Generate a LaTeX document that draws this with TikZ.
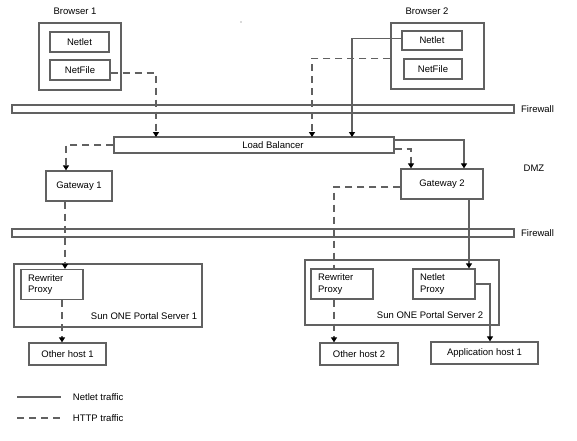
\documentclass[tikz,border=0pt]{standalone}
\usepackage{fontspec}
\setmainfont{Liberation Sans}
\usetikzlibrary{arrows.meta}
\definecolor{linegray}{gray}{0.38}

\begin{document}
\begin{tikzpicture}[x=1pt,y=-1pt,font=\fontsize{9.5}{11.5}\selectfont,
  box/.style={draw=linegray, line width=1.3pt, inner sep=0pt},
  proxybox/.style={box, text width=48pt, inner xsep=7pt, align=left, minimum height=30pt},
  netlet/.style={draw=linegray, line width=1.3pt},
  http/.style={draw=linegray, line width=1.3pt, dash pattern=on 7pt off 5pt},
  tip/.style={-{Triangle[length=5pt,width=6pt,color=black]}}]
  \useasboundingbox (0,0) rectangle (577,440);
  \fill[linegray] (241,22) circle [radius=0.7pt];
  % browsers
  \node (b1lbl) at (75,11) {Browser 1};
  \node[box, minimum width=82pt, minimum height=67pt] (b1) at (80,56.5) {};
  \node[box, minimum width=59pt, minimum height=20pt] (b1net) at (79.5,42) {Netlet};
  \node[box, minimum width=60pt, minimum height=20pt] (b1file) at (80,70) {NetFile};
  \node (b2lbl) at (427,11) {Browser 2};
  \node[box, minimum width=93pt, minimum height=66pt] (b2) at (437.5,56) {};
  \node[box, minimum width=60pt, minimum height=19pt] (b2net) at (432,40.5) {Netlet};
  \node[box, minimum width=58pt, minimum height=20pt] (b2file) at (433,69) {NetFile};
  % firewalls and DMZ
  \node[box, minimum width=502pt, minimum height=8pt] (fw1) at (263,109) {};
  \node[box, minimum width=502pt, minimum height=8pt] (fw2) at (263,233) {};
  \node[anchor=west] (fw1lbl) at ([xshift=3pt]fw1.east) {Firewall};
  \node[anchor=west] (fw2lbl) at ([xshift=3pt]fw2.east) {Firewall};
  \node (dmz) at (534,168) {DMZ};
  \node[box, minimum width=280pt, minimum height=16pt] (lb) at (254,145) {};
  \node (lblbl) at (273,145) {Load Balancer};
  \node[box, minimum width=66pt, minimum height=30pt] (gw1) at (79,186) {Gateway 1};
  \node[box, minimum width=82pt, minimum height=30pt] (gw2) at (442,184) {Gateway 2};
  % portal servers
  \node[box, minimum width=188pt, minimum height=63pt] (ps1) at (108,295.5) {};
  \node[proxybox] (rp1) at (52,284.5) {Rewriter\\Proxy};
  \node[anchor=east] (ps1lbl) at ([xshift=-2pt,yshift=12pt]ps1.south east) {Sun ONE Portal Server 1};
  \node[box, minimum width=194pt, minimum height=65pt] (ps2) at (402,292.5) {};
  \node[proxybox] (rp2) at (342,284) {Rewriter\\Proxy};
  \node[proxybox] (np) at (444,284) {Netlet\\Proxy};
  \node[anchor=east] (ps2lbl) at ([xshift=-13pt,yshift=11pt]ps2.south east) {Sun ONE Portal Server 2};
  \node[box, minimum width=77pt, minimum height=22pt] (oh1) at (67.5,354) {Other host 1};
  \node[box, minimum width=78pt, minimum height=22pt] (oh2) at (359,354) {Other host 2};
  \node[box, minimum width=107pt, minimum height=22pt] (ah) at (484.5,353) {Application host 1};
  % traffic
  \coordinate (lbin1) at (156,137);
  \coordinate (lbin2) at (312,137);
  \coordinate (lbin3) at (352,137);
  \draw[http,tip] ([yshift=-3pt]b1file.east) -| (lbin1);
  \draw[http,tip] (b2.west |- b2file.north) -| (lbin2);
  \draw[netlet,tip] ([yshift=2pt]b2net.west) -| (lbin3);
  \draw[http,tip] (lb.west) -| ([xshift=-13pt]gw1.north);
  \draw[netlet,tip] ([yshift=5pt]lb.east) -| ([xshift=22pt]gw2.north);
  \draw[http,tip] ([yshift=-4pt]lb.east) -| ([xshift=-31pt]gw2.north);
  \draw[http,tip] ([xshift=-14pt]gw1.south) -- ([xshift=-14pt]gw1.south |- rp1.north);
  \draw[http,tip] ([xshift=10pt]rp1.south) -- ([xshift=10pt]rp1.south |- oh1.north);
  \draw[http] ([yshift=-3pt]gw2.west) -| ([xshift=-8pt]rp2.north);
  \draw[http,tip] ([xshift=-8pt]rp2.south) -- ([xshift=-8pt]rp2.south |- oh2.north);
  \draw[netlet,tip] ([xshift=25pt]np.north |- gw2.south) -- ([xshift=25pt]np.north);
  \draw[netlet,tip] (np.east) -| ([xshift=5.5pt]ah.north);
  % legend
  \coordinate (leg1) at (17,397);
  \coordinate (leg2) at (17,418);
  \draw[netlet] (leg1) -- ++(44,0) node[right=8pt] (leg1lbl) {Netlet traffic};
  \draw[http] (leg2) -- ++(44,0) node[right=8pt] (leg2lbl) {HTTP traffic};
\end{tikzpicture}
\end{document}
